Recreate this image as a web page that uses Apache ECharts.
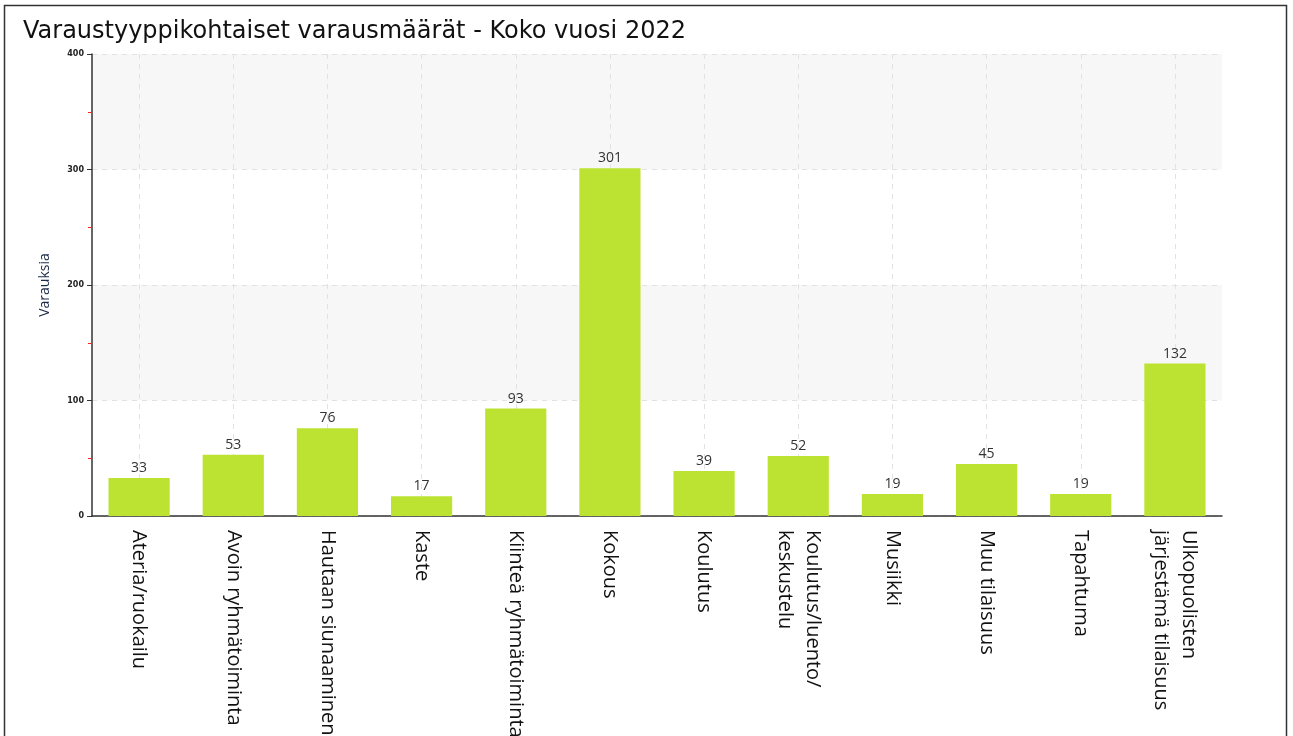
<!DOCTYPE html>
<html>
<head>
<meta charset="utf-8">
<script src="https://cdn.jsdelivr.net/npm/echarts@6/dist/echarts.min.js"></script>
<style>
    html, body { margin: 0; padding: 0; background: #fff; }
    #echart { width: 1293px; height: 736px; }
</style>
</head>
<body>
<div id="echart"></div>
<script>
const categories = [
    'Ateria/ruokailu',
    'Avoin ryhmätoiminta',
    'Hautaan siunaaminen',
    'Kaste',
    'Kiinteä ryhmätoiminta',
    'Kokous',
    'Koulutus',
    'Koulutus/luento/\nkeskustelu',
    'Musiikki',
    'Muu tilaisuus',
    'Tapahtuma',
    'Ulkopuolisten\njärjestämä tilaisuus'
];
const varaukset = [33, 53, 76, 17, 93, 301, 39, 52, 19, 45, 19, 132];
const yTicks = [0, 100, 200, 300, 400];

function render_chart() {
    var option = {
        animation: false,
        title: {
            text: 'Varaustyyppikohtaiset varausmäärät - Koko vuosi 2022',
            left: 18,
            top: 15,
            textStyle: {
                fontFamily: 'DejaVu Sans',
                fontWeight: 'normal',
                fontSize: 24,
                color: '#111'
            }
        },
        graphic: [{
            type: 'rect',
            shape: {x: 4.5, y: 5.5, width: 1282, height: 740},
            style: {fill: 'none', stroke: '#333', lineWidth: 1.5},
            silent: true
        }],
        grid: {
            top: 54,
            left: 92,
            right: 71,
            bottom: 220,
            outerBoundsMode: 'none'
        },
        xAxis: {
            type: 'category',
            data: categories,
            axisLine: {
                lineStyle: {color: '#333', width: 1.5}
            },
            axisTick: {
                alignWithLabel: true,
                length: 5,
                lineStyle: {color: '#333'}
            },
            splitLine: {
                show: true,
                alignWithLabel: true,
                lineStyle: {color: '#e2e2e2', type: [5, 5]}
            },
            axisLabel: {
                rotate: -90,
                interval: 0,
                margin: 14,
                fontFamily: 'Open Sans',
                fontSize: 20,
                lineHeight: 28,
                color: '#111'
            }
        },
        yAxis: {
            type: 'value',
            min: 0,
            max: 400,
            interval: 100,
            name: 'Varauksia',
            nameLocation: 'middle',
            nameRotate: 90,
            nameGap: 40,
            nameTextStyle: {
                fontFamily: 'Open Sans',
                fontSize: 14,
                color: '#1b2a4a'
            },
            axisLine: {
                show: true,
                lineStyle: {color: '#333', width: 1.5}
            },
            axisTick: {
                show: true,
                length: 5,
                lineStyle: {color: '#333'}
            },
            minorTick: {
                show: true,
                splitNumber: 2,
                length: 4,
                lineStyle: {color: '#ff2020', width: 1}
            },
            splitLine: {
                lineStyle: {color: '#e2e2e2', type: [5, 5]}
            },
            splitArea: {
                show: true,
                areaStyle: {color: ['rgba(0,0,0,0)', '#f7f7f7']}
            },
            axisLabel: {
                fontFamily: 'DejaVu Sans',
                fontSize: 8,
                fontWeight: 'bold',
                color: '#222',
                margin: 8,
                formatter: function (v) {
                    return yTicks.indexOf(v) >= 0 ? String(v) : '';
                }
            }
        },
        series: [{
            name: 'Varauksia',
            type: 'bar',
            data: varaukset,
            barWidth: '65%',
            itemStyle: {color: '#bde332'},
            label: {
                show: true,
                position: 'top',
                distance: 3,
                fontFamily: 'Open Sans',
                fontSize: 14,
                color: '#333'
            }
        }]
    };

    var barChart = echarts.init(document.getElementById('echart'));
    barChart.setOption(option);
}

render_chart();
</script>
</body>
</html>
